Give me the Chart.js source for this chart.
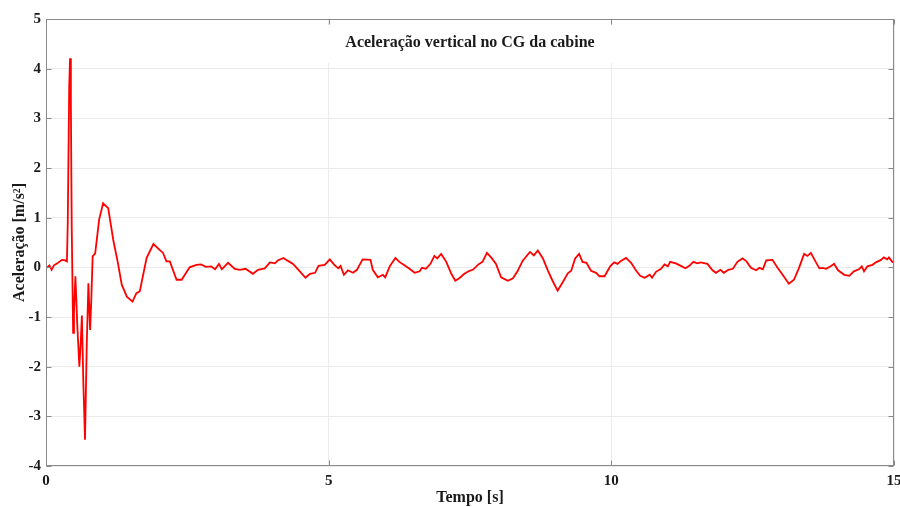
<!DOCTYPE html>
<html lang="pt">
<head>
<meta charset="utf-8">
<title>Aceleração vertical no CG da cabine</title>
<script src="https://cdn.jsdelivr.net/npm/chart.js@4/dist/chart.umd.min.js"></script>
<style>
  html, body { margin: 0; padding: 0; background: #fff; }
  #wrap { width: 900px; height: 507px; }
</style>
</head>
<body>
<div id="wrap"><canvas id="accelChart" width="900" height="507"></canvas></div>
<script>
// ---------- Data ----------
const tempo = [
  0.00, 0.06, 0.10, 0.14, 0.20, 0.28, 0.34, 0.37, 0.385, 0.41,
  0.425, 0.44, 0.455, 0.48, 0.495, 0.52, 0.555, 0.59, 0.615, 0.635,
  0.66, 0.69, 0.72, 0.75, 0.765, 0.78, 0.80, 0.825, 0.87, 0.94,
  1.01, 1.10, 1.19, 1.27, 1.34, 1.43, 1.53, 1.60, 1.66, 1.78,
  1.90, 2.01, 2.07, 2.13, 2.19, 2.31, 2.40, 2.54, 2.66, 2.74,
  2.83, 2.92, 2.99, 3.06, 3.11, 3.22, 3.34, 3.43, 3.53, 3.66,
  3.75, 3.87, 3.96, 4.05, 4.10, 4.20, 4.28, 4.37, 4.49, 4.59,
  4.67, 4.76, 4.82, 4.93, 5.02, 5.10, 5.17, 5.21, 5.27, 5.34,
  5.43, 5.50, 5.60, 5.74, 5.78, 5.87, 5.96, 6.00, 6.08, 6.18,
  6.25, 6.34, 6.43, 6.52, 6.61, 6.65, 6.72, 6.80, 6.87, 6.92,
  6.99, 7.08, 7.17, 7.24, 7.31, 7.40, 7.49, 7.55, 7.64, 7.72,
  7.80, 7.88, 7.96, 8.05, 8.17, 8.26, 8.34, 8.43, 8.56, 8.63,
  8.70, 8.79, 8.88, 8.96, 9.05, 9.14, 9.23, 9.29, 9.36, 9.43,
  9.49, 9.56, 9.64, 9.73, 9.79, 9.88, 9.98, 10.05, 10.11, 10.17,
  10.26, 10.35, 10.44, 10.51, 10.59, 10.68, 10.72, 10.79, 10.88, 10.94,
  11.00, 11.04, 11.14, 11.23, 11.31, 11.38, 11.45, 11.52, 11.58, 11.70,
  11.79, 11.85, 11.93, 11.99, 12.07, 12.15, 12.23, 12.32, 12.39, 12.47,
  12.56, 12.62, 12.68, 12.74, 12.85, 12.94, 13.03, 13.14, 13.23, 13.32,
  13.41, 13.47, 13.53, 13.61, 13.68, 13.74, 13.80, 13.88, 13.94, 14.01,
  14.12, 14.21, 14.29, 14.38, 14.43, 14.47, 14.53, 14.62, 14.68, 14.77,
  14.82, 14.88, 14.91, 14.97, 15.00
];

const aceleracao = [
  -0.02, 0.04, -0.05, 0.04, 0.08, 0.15, 0.14, 0.12, 0.90, 3.60,
  4.21, 3.30, 0.80, -1.32, -0.90, -0.18, -1.20, -2.00, -1.50, -0.97,
  -2.30, -3.47, -1.60, -0.32, -0.80, -1.26, -0.70, 0.22, 0.28, 0.96,
  1.29, 1.19, 0.55, 0.10, -0.35, -0.59, -0.69, -0.52, -0.48, 0.19,
  0.47, 0.35, 0.29, 0.12, 0.12, -0.25, -0.25, 0.00, 0.05, 0.06,
  0.01, 0.02, -0.04, 0.07, -0.04, 0.09, -0.03, -0.05, -0.03, -0.13,
  -0.05, -0.02, 0.10, 0.08, 0.14, 0.19, 0.13, 0.07, -0.08, -0.21,
  -0.13, -0.11, 0.03, 0.05, 0.16, 0.05, -0.02, 0.03, -0.15, -0.06,
  -0.11, -0.05, 0.16, 0.15, -0.05, -0.20, -0.15, -0.20, 0.02, 0.19,
  0.11, 0.04, -0.03, -0.11, -0.08, -0.01, -0.03, 0.07, 0.23, 0.18,
  0.27, 0.11, -0.13, -0.27, -0.22, -0.13, -0.07, -0.05, 0.05, 0.11,
  0.29, 0.19, 0.07, -0.20, -0.27, -0.22, -0.08, 0.13, 0.31, 0.24,
  0.34, 0.18, -0.07, -0.27, -0.47, -0.30, -0.12, -0.07, 0.18, 0.27,
  0.11, 0.09, -0.07, -0.11, -0.18, -0.18, 0.02, 0.10, 0.07, 0.13,
  0.19, 0.09, -0.07, -0.17, -0.21, -0.15, -0.21, -0.09, -0.03, 0.06,
  0.02, 0.11, 0.08, 0.03, -0.02, 0.03, 0.11, 0.08, 0.10, 0.07,
  -0.06, -0.11, -0.05, -0.11, -0.05, -0.03, 0.11, 0.18, 0.12, -0.01,
  -0.06, -0.01, -0.04, 0.14, 0.15, -0.01, -0.15, -0.33, -0.25, -0.01,
  0.27, 0.23, 0.29, 0.12, -0.02, -0.01, -0.03, 0.02, 0.07, -0.06,
  -0.15, -0.17, -0.08, -0.04, 0.02, -0.08, 0.02, 0.05, 0.10, 0.15,
  0.20, 0.16, 0.20, 0.11, 0.10
];

const xTicks = [0, 5, 10, 15];
const yTicks = [-4, -3, -2, -1, 0, 1, 2, 3, 4, 5];

const tituloGrafico = "Aceleração vertical no CG da cabine";
const tituloX = "Tempo [s]";
const tituloY = "Aceleração [m/s²]";

(() => {
  "use strict";

  const FONT = "'Liberation Serif', 'Times New Roman', serif";
  const AXIS_COLOR = "#8a8a8a";
  const GRID_COLOR = "#ebebeb";
  const TICK_LEN = 5;

  const points = tempo.map((t, i) => ({ x: t, y: aceleracao[i] }));

  // moldura estilo MATLAB (box on, ticks para dentro)
  const framePlugin = {
    id: "frame",
    beforeDatasetsDraw(chart) {
      const { ctx, chartArea: a } = chart;
      // caixa branca do título dentro da área do gráfico
      ctx.save();
      ctx.fillStyle = "#fff";
      ctx.fillRect(327, 25, 288, 38);
      ctx.fillStyle = "#1a1a1a";
      ctx.font = `bold 16px ${FONT}`;
      ctx.textAlign = "center";
      ctx.textBaseline = "middle";
      ctx.fillText(tituloGrafico, (a.left + a.right) / 2, 43);
      ctx.restore();
    },
    afterDraw(chart) {
      const { ctx, chartArea: a, scales } = chart;
      const L = Math.round(a.left) + 0.5, R = Math.round(a.right) - 0.5;
      const T = Math.round(a.top) + 0.5, B = Math.round(a.bottom) - 0.5;
      ctx.save();
      ctx.strokeStyle = AXIS_COLOR;
      ctx.lineWidth = 1;
      ctx.strokeRect(L, T, R - L, B - T);
      ctx.beginPath();
      yTicks.forEach((v) => {
        const y = Math.round(scales.y.getPixelForValue(v)) + 0.5;
        ctx.moveTo(L, y); ctx.lineTo(L + TICK_LEN, y);
        ctx.moveTo(R, y); ctx.lineTo(R - TICK_LEN, y);
      });
      xTicks.forEach((v) => {
        const x = Math.round(scales.x.getPixelForValue(v)) + 0.5;
        ctx.moveTo(x, B); ctx.lineTo(x, B - TICK_LEN);
        ctx.moveTo(x, T); ctx.lineTo(x, T + TICK_LEN);
      });
      ctx.stroke();
      ctx.restore();
    },
  };

  new Chart(document.getElementById("accelChart"), {
    type: "line",
    data: {
      datasets: [{
        data: points,
        borderColor: "#ff0000",
        borderWidth: 1.8,
        pointRadius: 0,
        tension: 0,
        fill: false,
      }],
    },
    options: {
      responsive: false,
      animation: false,
      layout: { padding: { top: 19, right: 6, left: 0, bottom: 0 } },
      plugins: { legend: { display: false }, tooltip: { enabled: false } },
      scales: {
        x: {
          type: "linear",
          min: 0, max: 15,
          afterBuildTicks: (s) => { s.ticks = xTicks.map((v) => ({ value: v })); },
          afterFit: (s) => { s.height = 41; s.paddingLeft = 0; s.paddingRight = 0; },
          grid: { color: GRID_COLOR, drawTicks: false },
          border: { display: false },
          ticks: {
            color: "#1a1a1a", padding: 6, maxRotation: 0,
            font: { family: FONT, size: 15, weight: "bold" },
          },
          title: {
            display: true, text: tituloX, color: "#1a1a1a",
            padding: { top: 0, bottom: 0 },
            font: { family: FONT, size: 16, weight: "bold" },
          },
        },
        y: {
          min: -4, max: 5,
          afterBuildTicks: (s) => { s.ticks = yTicks.map((v) => ({ value: v })); },
          afterFit: (s) => { s.width = 46; s.paddingTop = 0; s.paddingBottom = 0; },
          grid: { color: GRID_COLOR, drawTicks: false },
          border: { display: false },
          ticks: {
            color: "#1a1a1a", padding: 5,
            font: { family: FONT, size: 15, weight: "bold" },
          },
          title: {
            display: true, text: tituloY, color: "#1a1a1a",
            padding: { top: 10, bottom: 0 },
            font: { family: FONT, size: 16, weight: "bold" },
          },
        },
      },
    },
    plugins: [framePlugin],
  });
})();
</script>
</body>
</html>
